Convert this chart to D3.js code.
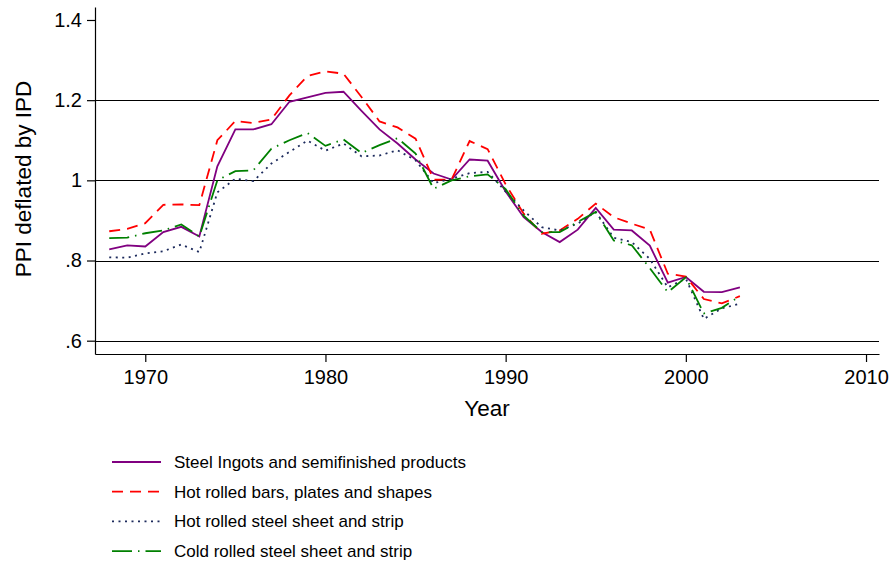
<!doctype html>
<html lang="en">
  <head>
    <meta charset="utf-8">
    <title>PPI deflated by IPD</title>
    <script src="https://d3js.org/d3.v7.min.js"></script>
    <style>
      body { margin: 0; background: #fff; }
      svg { display: block; font-family: "Liberation Sans", Arial, Helvetica, sans-serif; }
    </style>
  </head>
  <body>
    <svg width="891" height="565"></svg>
    <script>
      // data, 1968-2003
      var years = d3.range(1968, 2004);
      var ingots = [0.828, 0.838, 0.835, 0.871, 0.884, 0.860, 1.035, 1.127, 1.127, 1.140,
                    1.196, 1.207, 1.218, 1.221, 1.173, 1.127, 1.092, 1.052, 1.017, 1.002,
                    1.052, 1.049, 0.972, 0.908, 0.871, 0.846, 0.877, 0.931, 0.877, 0.875,
                    0.837, 0.745, 0.759, 0.722, 0.721, 0.733];
      var hotBars = [0.873, 0.879, 0.893, 0.939, 0.940, 0.938, 1.100, 1.148, 1.143, 1.152,
                     1.212, 1.260, 1.272, 1.266, 1.208, 1.147, 1.132, 1.104, 1.002, 1.002,
                     1.098, 1.078, 0.990, 0.917, 0.867, 0.875, 0.904, 0.942, 0.908, 0.892,
                     0.877, 0.767, 0.760, 0.704, 0.693, 0.711];
      var hotSheet = [0.808, 0.807, 0.818, 0.823, 0.840, 0.821, 0.970, 1.004, 0.998, 1.042,
                      1.071, 1.099, 1.074, 1.092, 1.060, 1.062, 1.075, 1.050, 0.993, 1.004,
                      1.018, 1.021, 0.972, 0.925, 0.883, 0.875, 0.892, 0.921, 0.857, 0.846,
                      0.804, 0.733, 0.755, 0.654, 0.681, 0.692];
      var coldSheet = [0.856, 0.857, 0.868, 0.875, 0.890, 0.860, 1.000, 1.023, 1.025, 1.079,
                       1.100, 1.118, 1.086, 1.102, 1.068, 1.088, 1.105, 1.067, 0.979, 1.000,
                       1.010, 1.015, 0.978, 0.912, 0.871, 0.871, 0.896, 0.921, 0.850, 0.838,
                       0.781, 0.721, 0.758, 0.668, 0.682, 0.711];
      var seriesNames = ["Steel Ingots and semifinished products",
                         "Hot rolled bars, plates and shapes",
                         "Hot rolled steel sheet and strip",
                         "Cold rolled steel sheet and strip"];
      var xTicks = [1970, 1980, 1990, 2000, 2010];
      var yTicks = [0.6, 0.8, 1.0, 1.2, 1.4];
      var yTickLabels = [".6", ".8", "1", "1.2", "1.4"];

      var svg = d3.select("svg"),
          margin = {top: 7, right: 12, bottom: 211, left: 95},
          width = +svg.attr("width") - margin.left - margin.right,
          height = +svg.attr("height") - margin.top - margin.bottom,
          g = svg.append("g").attr("transform", "translate(" + margin.left + "," + margin.top + ")");

      var x = d3.scaleLinear()
                .domain([1967.21, 2010.72])
                .range([0, width]);
      var y = d3.scaleLinear()
                .domain([0.5668, 1.4324])
                .range([height, 0]);

      // horizontal grid lines
      g.append("g")
        .selectAll("line")
        .data(yTicks.slice(0, 4))
        .enter().append("line")
          .attr("x1", 0)
          .attr("x2", width)
          .attr("y1", function(d) { return Math.round(y(d)) + 0.5; })
          .attr("y2", function(d) { return Math.round(y(d)) + 0.5; })
          .attr("stroke", "#000")
          .attr("stroke-width", 1);

      var xAxis = g.append("g")
          .attr("transform", "translate(0," + height + ")")
          .call(d3.axisBottom(x)
                  .tickValues(xTicks)
                  .tickFormat(d3.format("d"))
                  .tickSize(8)
                  .tickSizeOuter(0)
                  .tickPadding(8));
      var yAxis = g.append("g")
          .call(d3.axisLeft(y)
                  .tickValues(yTicks)
                  .tickFormat(function(d, i) { return yTickLabels[i]; })
                  .tickSize(8)
                  .tickSizeOuter(0)
                  .tickPadding(5));
      [xAxis, yAxis].forEach(function(a) {
        a.attr("font-family", null).attr("font-size", 20);
        a.selectAll("text").attr("fill", "#000");
        a.selectAll("line, path").attr("stroke", "#000").attr("stroke-width", 1.2);
      });

      svg.append("text")
        .attr("transform", "translate(31,179) rotate(-90)")
        .attr("text-anchor", "middle")
        .attr("font-size", 22.5)
        .text("PPI deflated by IPD");

      svg.append("text")
        .attr("x", margin.left + width / 2)
        .attr("y", 416)
        .attr("text-anchor", "middle")
        .attr("font-size", 22.5)
        .text("Year");

      var styles = [
        {color: "#800080", dash: null},
        {color: "#ff0000", dash: "11,7"},
        {color: "#1c2a5c", dash: "2,4.5"},
        {color: "#008000", dash: "20,6,1.5,6"}
      ];
      var allSeries = [ingots, hotBars, hotSheet, coldSheet];

      var line = d3.line()
                   .x(function(d, i) { return x(years[i]); })
                   .y(function(d) { return y(d); });

      allSeries.forEach(function(values, k) {
        g.append("path")
          .datum(values)
          .attr("fill", "none")
          .attr("stroke", styles[k].color)
          .attr("stroke-width", 1.8)
          .attr("stroke-dasharray", styles[k].dash)
          .attr("d", line);
      });

      // legend
      var legend = svg.append("g").attr("transform", "translate(112,462)");
      seriesNames.forEach(function(name, k) {
        var row = legend.append("g").attr("transform", "translate(0," + (k * 29.7) + ")");
        row.append("line")
          .attr("x1", 0).attr("x2", 49)
          .attr("y1", 0).attr("y2", 0)
          .attr("stroke", styles[k].color)
          .attr("stroke-width", 1.8)
          .attr("stroke-dasharray", styles[k].dash);
        row.append("text")
          .attr("x", 62)
          .attr("y", 6)
          .attr("font-size", 17)
          .text(name);
      });
    </script>
  </body>
</html>
